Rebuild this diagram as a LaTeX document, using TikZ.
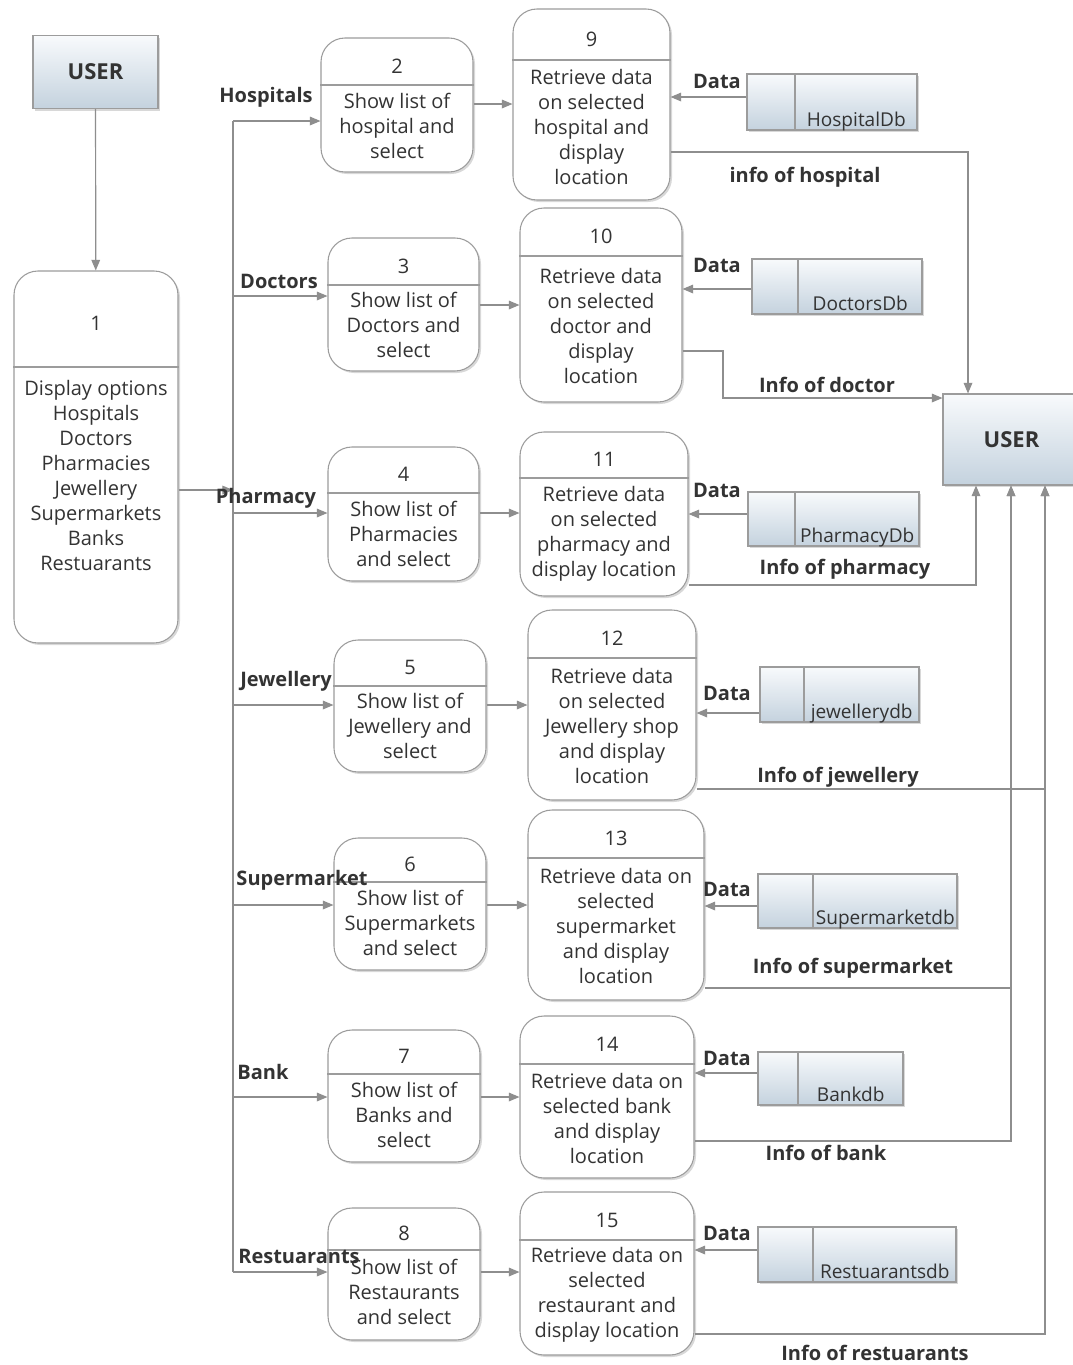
\documentclass[tikz,border=0pt]{standalone}
\usepackage{fontspec}
\setmainfont{Open Sans}
\usetikzlibrary{arrows.meta,calc,fit,shadows}

\definecolor{linegray}{HTML}{8E8E8E}
\definecolor{boxgray}{HTML}{9C9C9C}
\definecolor{txtgray}{HTML}{333333}
\definecolor{boxtop}{HTML}{F8FAFC}
\definecolor{boxbot}{HTML}{C4D2DE}

% process: [text shift] name, x1, y1, x2, y2, split, number, text
\newcommand{\procnode}[9][-3]{%
  \coordinate (#2nw) at (#3,#4);
  \coordinate (#2se) at (#5,#6);
  \node[procbox,fit=(#2nw)(#2se)] (#2) {};
  \coordinate (#2l) at (#2.west |- 0,#7);
  \coordinate (#2r) at (#2.east |- 0,#7);
  \draw[draw=boxgray,line width=.8pt] (#2l) -- (#2r);
  \node[numtxt] (#2n) at ($(#2.north)!.5!(#2.north |- #2l)+(0,5)$) {#8};
  \node[proctxt] (#2t) at ($(#2.south)!.5!(#2.south |- #2l)+(0,#1)$) {#9};
}
% data store: name, x1, y1, x2, y2, divider, label
\newcommand{\dbstore}[7]{%
  \coordinate (#1nw) at (#2,#3);
  \coordinate (#1se) at (#4,#5);
  \node[storebox,fit=(#1nw)(#1se)] (#1) {};
  \coordinate (#1d) at (#1.south -| #6,0);
  \draw[draw=boxgray,line width=.8pt] (#1.north -| #1d) -- (#1d);
  \node[storetxt] (#1t) at ($(#1d)!.5!(#1.south east)+(0,-4)$) {#7};
}

\begin{document}
\begin{tikzpicture}[x=.75pt,y=-.75pt,
  flow/.style={draw=linegray,line width=.9pt,-{Triangle[length=8pt,width=6.5pt]}},
  wire/.style={draw=linegray,line width=.9pt},
  procbox/.style={draw=boxgray,line width=.8pt,fill=white,rounded corners=18pt,inner sep=0pt,
    drop shadow={opacity=.3,shadow xshift=1.5pt,shadow yshift=-1.5pt}},
  storebox/.style={draw=boxgray,line width=.8pt,top color=boxtop,bottom color=boxbot,inner sep=0pt,
    drop shadow={opacity=.3,shadow xshift=1.5pt,shadow yshift=-1.5pt}},
  usrbox/.style={storebox,font=\bfseries\fontsize{16.5}{19}\selectfont,text=txtgray},
  numtxt/.style={font=\fontsize{15}{17}\selectfont,text=txtgray},
  proctxt/.style={align=center,font=\fontsize{15}{18.75}\selectfont,text=txtgray,inner sep=0pt},
  storetxt/.style={anchor=base,font=\fontsize{14.3}{16}\selectfont,text=txtgray,inner sep=0pt},
  lbl/.style={font=\bfseries\fontsize{15}{17}\selectfont,text=txtgray,inner sep=1pt}]
\useasboundingbox[fill=white] (0,0) rectangle (1072,1365);

% users
\node[usrbox,minimum width=93.75pt,minimum height=54.75pt] (usrA) at (95.5,72) {USER};
\node[usrbox,minimum width=102.75pt,minimum height=68.25pt] (usrB) at (1011.5,439.5) {USER};

% processes
\procnode[-30]{p1}{14}{271}{178}{643}{367}{1}{Display options\\Hospitals\\Doctors\\Pharmacies\\Jewellery\\Supermarkets\\Banks\\Restuarants}
\procnode{p2}{321}{38}{473}{172}{85}{2}{Show list of\\hospital and\\select}
\procnode{p3}{328}{238}{479}{371}{285}{3}{Show list of\\Doctors and\\select}
\procnode{p4}{328}{447}{479}{581}{493}{4}{Show list of\\Pharmacies\\and select}
\procnode{p5}{334}{640}{486}{772}{686}{5}{Show list of\\Jewellery and\\select}
\procnode{p6}{334}{838}{486}{970}{882}{6}{Show list of\\Supermarkets\\and select}
\procnode{p7}{328}{1030}{480}{1162}{1074}{7}{Show list of\\Banks and\\select}
\procnode{p8}{328}{1208}{480}{1340}{1250}{8}{Show list of\\Restaurants\\and select}
\procnode{p9}{513}{9}{670}{200}{60}{9}{Retrieve data\\on selected\\hospital and\\display\\location}
\procnode{p10}{520}{208}{682}{402}{256}{10}{Retrieve data\\on selected\\doctor and\\display\\location}
\procnode{p11}{520}{432}{688}{596}{478}{11}{Retrieve data\\on selected\\pharmacy and\\display location}
\procnode{p12}{528}{610}{696}{800}{658}{12}{Retrieve data\\on selected\\Jewellery shop\\and display\\location}
\procnode{p13}{528}{810}{704}{1000}{858}{13}{Retrieve data on\\selected\\supermarket\\and display\\location}
\procnode{p14}{520}{1016}{694}{1178}{1064}{14}{Retrieve data on\\selected bank\\and display\\location}
\procnode{p15}{520}{1192}{694}{1355}{1240}{15}{Retrieve data on\\selected\\restaurant and\\display location}

% data stores
\dbstore{hdb}{747}{74}{917}{130}{795}{HospitalDb}
\dbstore{ddb}{752}{259}{922}{314}{798}{DoctorsDb}
\dbstore{phdb}{748}{492}{919}{546}{795}{PharmacyDb}
\dbstore{jdb}{760}{667}{919}{722}{804}{jewellerydb}
\dbstore{sdb}{758}{874}{957}{928}{813}{Supermarketdb}
\dbstore{bdb}{758}{1052}{903}{1105}{798}{Bankdb}
\dbstore{rdb}{758}{1227}{956}{1282}{813}{Restuarantsdb}

% user to options, options to lists
\draw[flow] (usrA) -- (p1);
\foreach \n/\y in {2/121,3/296,4/513,5/705,6/905,7/1097,8/1272}{
  \coordinate (b\n) at (233,\y);
  \draw[flow] (b\n) -- (p\n.west |- b\n);
}
\draw[wire] (b2) -- (b8);
\draw[flow] (p1.east |- 0,490) -- (b4 |- 0,490);

% lists to retrieval
\foreach \a/\b/\y in {2/9/104,3/10/305,4/11/513,5/12/705,6/13/905,7/14/1097,8/15/1272}
  \draw[flow] (p\a.east |- 0,\y) -- (p\b.west |- 0,\y);

% stores to retrieval
\foreach \s/\p/\y in {hdb/9/97,ddb/10/289,phdb/11/514,jdb/12/713,sdb/13/906,bdb/14/1073,rdb/15/1250}
  \draw[flow] (\s.west |- 0,\y) -- (p\p.east |- 0,\y);

% retrieval to user
\draw[flow] (p9.east |- 0,152) -| (usrB.north -| 968,0);
\draw[flow] (p10.east |- 0,351) -| (723,398) -- (usrB.west |- 0,398);
\draw[flow] (p11.east |- 0,585) -| (usrB.south -| 976,0);
\draw[flow] (p12.east |- 0,789) -| (usrB.south -| 1045,0);
\draw[flow] (p13.east |- 0,988) -| (usrB.south -| 1011,0);
\draw[flow] (p14.east |- 0,1141) -| (usrB.south -| 1011,0);
\draw[flow] (p15.east |- 0,1334) -| (usrB.south -| 1045,0);

% labels
\node[lbl] (lhos) at (266,97) {Hospitals};
\node[lbl] (ldoc) at (279,281) {Doctors};
\node[lbl] (lpha) at (266,498) {Pharmacy};
\node[lbl] (ljew) at (286,681) {Jewellery};
\node[lbl] (lsup) at (302,880) {Supermarket};
\node[lbl] (lban) at (263,1072) {Bank};
\node[lbl] (lres) at (299,1256) {Restuarants};
\foreach \x/\y [count=\i] in {717/81,717/265,717/490,727/693,727/889,727/1058,727/1233}
  \node[lbl] (dat\i) at (\x,\y) {Data};
\node[lbl] (ihos) at (805,177) {info of hospital};
\node[lbl] (idoc) at (827,385) {Info of doctor};
\node[lbl] (ipha) at (845,569) {Info of pharmacy};
\node[lbl] (ijew) at (838,777) {Info of jewellery};
\node[lbl] (isup) at (853,968) {Info of supermarket};
\node[lbl] (iban) at (826,1153) {Info of bank};
\node[lbl] (ires) at (875,1353) {Info of restuarants};
\end{tikzpicture}
\end{document}
